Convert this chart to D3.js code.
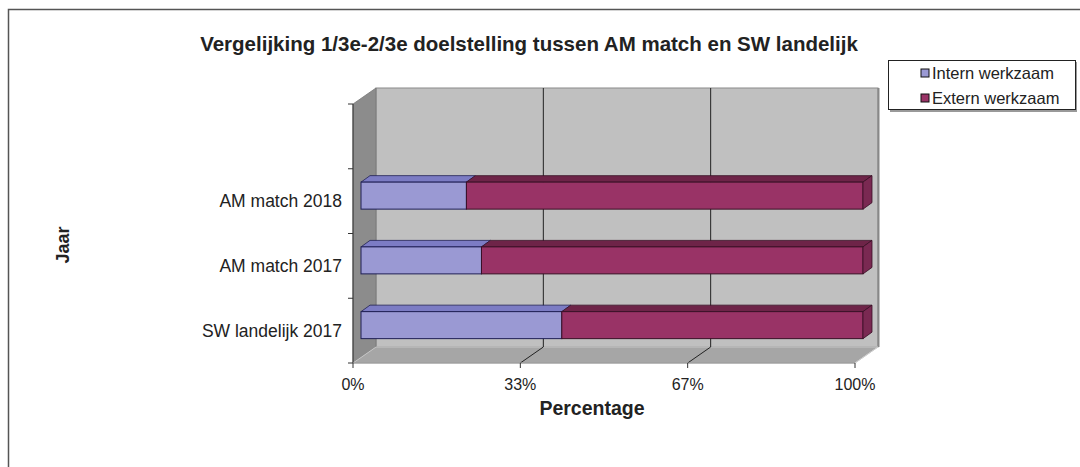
<!DOCTYPE html>
<html><head><meta charset="utf-8">
<script src="https://cdn.jsdelivr.net/npm/d3@7"></script>
<style>html,body{margin:0;padding:0;background:#fff;}svg{display:block;font-family:"Liberation Sans",Arial,sans-serif;}</style>
</head><body>
<svg id="c" width="1080" height="467"></svg>
<script>
const categories = ["", "AM match 2018", "AM match 2017", "SW landelijk 2017"];
const seriesNames = ["Intern werkzaam", "Extern werkzaam"];
const intern = [null, 21, 24, 40];
const extern = [null, 79, 76, 60];
const xTicks = [0, 33.333, 66.667, 100];
const xTickLabels = ["0%", "33%", "67%", "100%"];
const title = "Vergelijking 1/3e-2/3e doelstelling tussen AM match en SW landelijk";

const svg = d3.select("#c");
const x = d3.scaleLinear().domain([0, 100]).range([353, 855]);
const y = d3.scaleBand().domain(categories).range([104, 363]).paddingInner(0).paddingOuter(0);
const D = {dx: 23, dy: -16};          // wall depth
const B = {ox: 8, oy: -5.5, dx: 9, dy: -6.5}; // bar depth placement
const barH = 27;

// outer border
svg.append("path").attr("d", "M8.5,467 L8.5,9.5 L1080,9.5").attr("fill", "none").attr("stroke", "#555").attr("stroke-width", 1.5);

// walls
const x0 = x(0), x1 = x(100), yT = y.range()[0], yB = y.range()[1];
svg.append("rect").attr("x", x0 + D.dx).attr("y", yT + D.dy).attr("width", x1 - x0).attr("height", yB - yT)
  .attr("fill", "#c0c0c0").attr("stroke", "#8a8a8a").attr("stroke-width", 1);
svg.append("line").attr("x1", x1 + D.dx + 0.5).attr("x2", x1 + D.dx + 0.5).attr("y1", yT + D.dy).attr("y2", yB + D.dy).attr("stroke", "#888").attr("stroke-width", 2);
svg.append("polygon").attr("points", [[x0, yT], [x0 + D.dx, yT + D.dy], [x0 + D.dx, yB + D.dy], [x0, yB]].join(" "))
  .attr("fill", "#8c8c8c").attr("stroke", "#777").attr("stroke-width", 0.8);
svg.append("polygon").attr("points", [[x0, yB], [x0 + D.dx, yB + D.dy], [x1 + D.dx, yB + D.dy], [x1, yB]].join(" "))
  .attr("fill", "#a6a6a6").attr("stroke", "#d0d0d0").attr("stroke-width", 0.8);

// gridlines
xTicks.forEach(t => {
  if (t === 0) return;
  const gx = x(t);
  if (t < 100) {
    svg.append("line").attr("x1", gx + D.dx).attr("x2", gx + D.dx).attr("y1", yT + D.dy).attr("y2", yB + D.dy).attr("stroke", "#222").attr("stroke-width", 1);
  }
  svg.append("line").attr("x1", gx + D.dx).attr("x2", gx).attr("y1", yB + D.dy).attr("y2", yB).attr("stroke", t < 100 ? "#222" : "#ccc").attr("stroke-width", 1);
});

// axes
svg.append("line").attr("x1", x0).attr("x2", x0).attr("y1", yT).attr("y2", yB).attr("stroke", "#333").attr("stroke-width", 1);
svg.append("line").attr("x1", x0).attr("x2", x1).attr("y1", yB).attr("y2", yB).attr("stroke", "#888").attr("stroke-width", 1);
const bounds = categories.map(c => y(c)).concat([yB]);
bounds.forEach(b => svg.append("line").attr("x1", x0 - 5).attr("x2", x0).attr("y1", b).attr("y2", b).attr("stroke", "#333"));
xTicks.forEach(t => svg.append("line").attr("x1", x(t)).attr("x2", x(t)).attr("y1", yB).attr("y2", yB + 5).attr("stroke", "#333"));

// bars
const colors = [
  {front: "#9a99d3", top: "#7c7cc4", side: "#6d6db0", stroke: "#1f1f55"},
  {front: "#993366", top: "#6e2448", side: "#7a2952", stroke: "#3a1026"}
];
categories.forEach((c, i) => {
  if (intern[i] == null) return;
  const vals = [intern[i], extern[i]];
  let start = 0;
  const yc = y(c) + y.bandwidth() / 2 + B.oy;
  const ytop = yc - barH / 2, ybot = yc + barH / 2;
  vals.forEach((v, k) => {
    const xa = x(start) + B.ox, xb = x(start + v) + B.ox;
    const col = colors[k];
    svg.append("polygon").attr("points", [[xa, ytop], [xa + B.dx, ytop + B.dy], [xb + B.dx, ytop + B.dy], [xb, ytop]].join(" "))
      .attr("fill", col.top).attr("stroke", col.stroke).attr("stroke-width", 0.8).attr("stroke-linejoin", "round");
    svg.append("rect").attr("x", xa).attr("y", ytop).attr("width", xb - xa).attr("height", barH)
      .attr("fill", col.front).attr("stroke", col.stroke).attr("stroke-width", 1);
    if (k === vals.length - 1) {
      svg.append("polygon").attr("points", [[xb, ytop], [xb + B.dx, ytop + B.dy], [xb + B.dx, ybot + B.dy], [xb, ybot]].join(" "))
        .attr("fill", col.side).attr("stroke", col.stroke).attr("stroke-width", 0.8);
    }
    start += v;
  });
});

// labels
categories.forEach(c => {
  if (!c) return;
  svg.append("text").attr("x", 342).attr("y", y(c) + y.bandwidth() / 2).attr("dy", "0.35em").attr("text-anchor", "end")
    .attr("font-size", 17.5).attr("fill", "#222").text(c);
});
xTicks.forEach((t, i) => svg.append("text").attr("x", x(t)).attr("y", 390).attr("text-anchor", "middle")
  .attr("font-size", 16).attr("fill", "#222").text(xTickLabels[i]));
svg.append("text").attr("x", 592).attr("y", 415).attr("text-anchor", "middle").attr("font-size", 19.5).attr("font-weight", "bold").attr("fill", "#222").text("Percentage");
svg.append("text").attr("transform", "translate(69,245) rotate(-90)").attr("text-anchor", "middle").attr("font-size", 18).attr("font-weight", "bold").attr("fill", "#222").text("Jaar");
svg.append("text").attr("x", 529).attr("y", 51).attr("text-anchor", "middle").attr("font-size", 20.5).attr("font-weight", "bold").attr("fill", "#222").text(title);

// legend
svg.append("rect").attr("x", 890).attr("y", 62).attr("width", 187).attr("height", 50).attr("fill", "#999");
svg.append("rect").attr("x", 888.5).attr("y", 60.5).attr("width", 187).attr("height", 49).attr("fill", "#fff").attr("stroke", "#222").attr("stroke-width", 1);
seriesNames.forEach((s, i) => {
  const ly = 73 + i * 25;
  svg.append("rect").attr("x", 921).attr("y", ly - 4).attr("width", 8).attr("height", 8).attr("fill", colors[i].front).attr("stroke", "#111").attr("stroke-width", 1);
  svg.append("text").attr("x", 932).attr("y", ly).attr("dy", "0.35em").attr("font-size", 16.5).attr("fill", "#222").text(s);
});
</script>
</body></html>
